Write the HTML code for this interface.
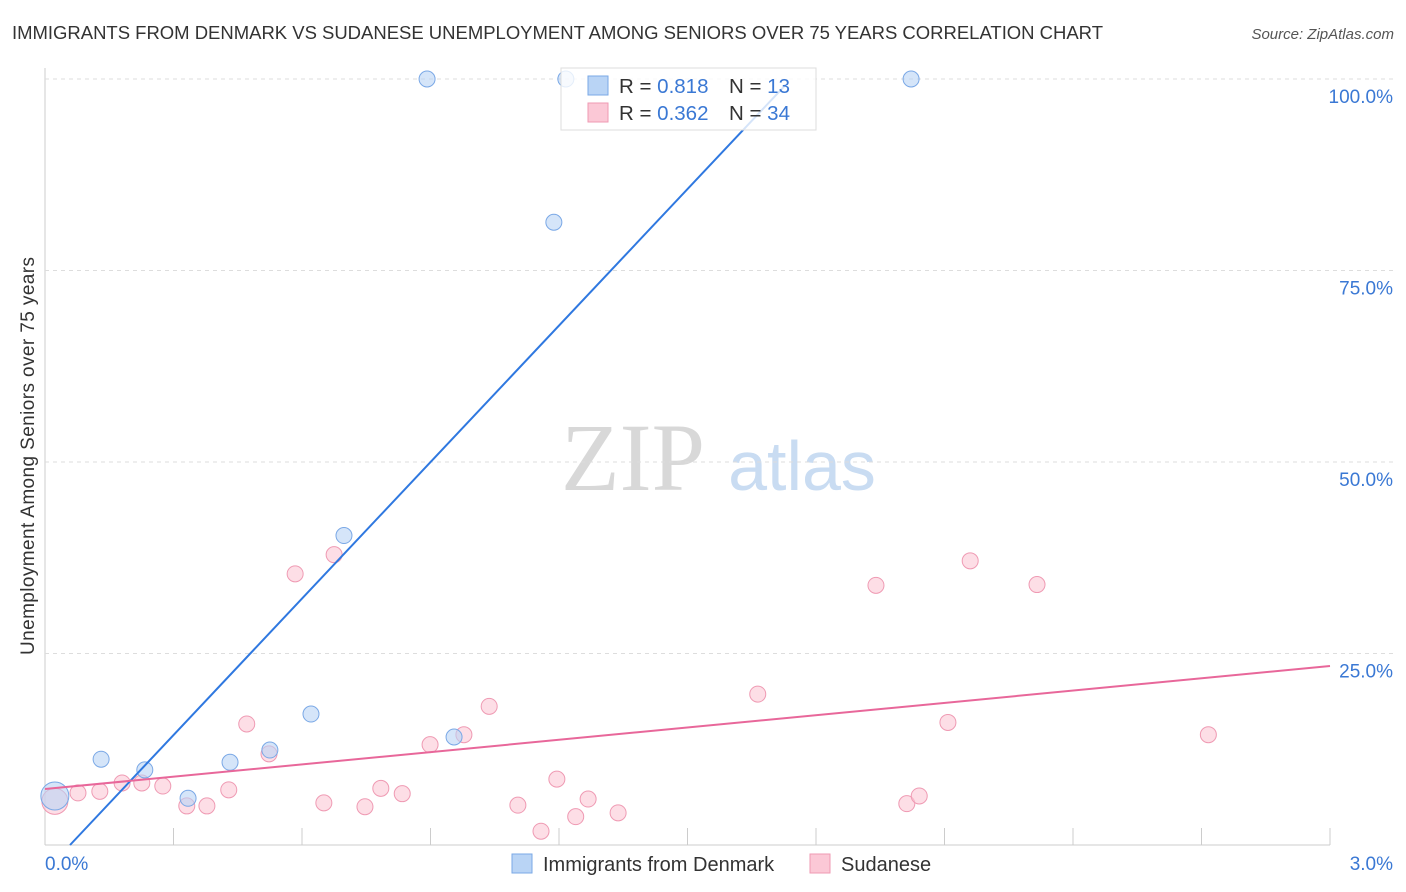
<!DOCTYPE html>
<html><head><meta charset="utf-8"><style>
body{margin:0;background:#fff;font-family:"Liberation Sans",sans-serif}
svg{display:block}
</style></head><body>
<svg id="c" width="1406" height="892" xmlns="http://www.w3.org/2000/svg">
<text x="12" y="39" font-size="18.5" fill="#333" textLength="1091">IMMIGRANTS FROM DENMARK VS SUDANESE UNEMPLOYMENT AMONG SENIORS OVER 75 YEARS CORRELATION CHART</text>
<text x="1394" y="39" font-size="15" fill="#555" font-style="italic" text-anchor="end">Source: ZipAtlas.com</text>
<text x="633" y="490" font-size="96" fill="#d8d8d8" font-family="Liberation Serif,serif" text-anchor="middle">ZIP</text>
<text x="802" y="490" font-size="70" fill="#c9dcf2" text-anchor="middle">atlas</text>
<text transform="translate(34,456) rotate(-90)" font-size="19" fill="#333" text-anchor="middle" textLength="398">Unemployment Among Seniors over 75 years</text>
<g id="grid"></g><g id="marks"></g>
<g>
<rect x="561" y="68" width="255" height="62" fill="#fff" fill-opacity="0.8" stroke="#ddd"/>
<rect x="588" y="76" width="20" height="19" fill="#b9d4f5" stroke="#7aa8e6"/>
<rect x="588" y="103" width="20" height="19" fill="#fbc8d6" stroke="#ef9ab3"/>
<text x="619" y="93" font-size="20.5" fill="#333">R = <tspan fill="#3a78d4">0.818</tspan></text>
<text x="729" y="93" font-size="20.5" fill="#333">N = <tspan fill="#3a78d4"> 13</tspan></text>
<text x="619" y="120" font-size="20.5" fill="#333">R = <tspan fill="#3a78d4">0.362</tspan></text>
<text x="729" y="120" font-size="20.5" fill="#333">N = <tspan fill="#3a78d4">34</tspan></text>
</g>
<g>
<rect x="512" y="854" width="20" height="19" fill="#b9d4f5" stroke="#7aa8e6"/>
<text x="543" y="871" font-size="20" fill="#333">Immigrants from Denmark</text>
<rect x="810" y="854" width="20" height="19" fill="#fbc8d6" stroke="#ef9ab3"/>
<text x="841" y="871" font-size="20" fill="#333">Sudanese</text>
</g>
</svg>
<script>
const yTicks=[25,50,75,100];
const yTickLabels=["25.0%","50.0%","75.0%","100.0%"];
const xTickLabels=["0.0%","3.0%"];
const blueX=[0.023,0.131,0.233,0.334,0.432,0.525,0.621,0.698,0.892,1.188,1.216,2.022,0.955];
const blueY=[6.4,11.2,9.8,6.1,10.8,12.4,17.1,40.4,100,81.3,100,100,14.1];
const pinkX=[0.023,0.077,0.128,0.180,0.226,0.275,0.331,0.378,0.429,0.471,0.523,0.584,0.651,0.675,0.747,0.784,0.834,0.899,0.978,1.037,1.104,1.158,1.195,1.239,1.268,1.338,1.664,1.940,2.012,2.041,2.108,2.160,2.316,2.716];
const pinkY=[5.7,6.8,7.0,8.1,8.1,7.7,5.1,5.1,7.2,15.8,11.9,35.4,5.5,37.9,5.0,7.4,6.7,13.1,14.4,18.1,5.2,1.8,8.6,3.7,6.0,4.2,19.7,33.9,5.4,6.4,16.0,37.1,34.0,14.4];
const blueTrend=[-3.47,59.4];
const pinkTrend=[7.31,5.353];
const X=v=>45+v/3*1285, Y=v=>845-v/100*766;
const NS="http://www.w3.org/2000/svg";
function mk(p,t,a){const e=document.createElementNS(NS,t);for(const k in a)e.setAttribute(k,a[k]);p.appendChild(e);return e;}
const g=document.getElementById('grid'),m=document.getElementById('marks');
const ax=mk(g,'line',{x1:45,y1:68,x2:45,y2:845,stroke:'#ccc'});


const bx=mk(g,'line',{x1:45,y1:845,x2:1330,y2:845,stroke:'#ccc'});


yTicks.forEach((t,i)=>{
 const l=mk(g,'line',{x1:45,y1:Y(t),x2:1395,y2:Y(t),stroke:'#ddd','stroke-dasharray':'4,4'});
 
 
 const tx=mk(g,'text',{x:1393,y:Y(t)+24,'font-size':19,fill:'#3a78d4','text-anchor':'end'});tx.textContent=yTickLabels[i];
 
 
});
for(let i=0;i<=10;i++){const x=X(i*0.3);const l=mk(g,'line',{x1:x,y1:828,x2:x,y2:845,stroke:'#ccc'});
 
 }
[[0,45,'start'],[3,1393,'end']].forEach((d,i)=>{const t=mk(g,'text',{x:d[1],y:870,'font-size':19,fill:'#3a78d4','text-anchor':d[2]});t.textContent=xTickLabels[i];
 
 });
pinkX.forEach((x,i)=>{const c=mk(m,'circle',{cx:X(x),cy:Y(pinkY[i]),r:i==0?13:8,fill:'#fbc8d6','fill-opacity':0.6,stroke:'#ef9ab3'});
 
 });
blueX.forEach((x,i)=>{const c=mk(m,'circle',{cx:X(x),cy:Y(blueY[i]),r:i==0?14:8,fill:'#b9d4f5','fill-opacity':0.6,stroke:'#7aa8e6'});
 
 });
const x0=-blueTrend[0]/blueTrend[1], x1=(99.2-blueTrend[0])/blueTrend[1];
const bl=mk(m,'line',{x1:X(x0),y1:Y(0),x2:X(x1),y2:Y(99.2),stroke:'#2f78e0','stroke-width':2});


const pl=mk(m,'line',{x1:X(0),y1:Y(pinkTrend[0]),x2:X(3),y2:Y(pinkTrend[0]+3*pinkTrend[1]),stroke:'#e8679a','stroke-width':2});


</script>
</body></html>
